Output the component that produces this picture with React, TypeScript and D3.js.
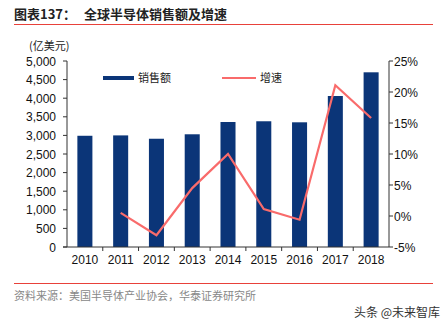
import React from "react";
import * as d3 from "d3";

const years = ["2010", "2011", "2012", "2013", "2014", "2015", "2016", "2017", "2018"];
const sales = [2990, 3000, 2910, 3030, 3360, 3380, 3352, 4059, 4696];
const growth = [null, 0.5, -3.1, 4.5, 10.0, 1.1, -0.6, 21.1, 15.8];
const leftTicks = [0, 500, 1000, 1500, 2000, 2500, 3000, 3500, 4000, 4500, 5000];
const rightTicks = [-5, 0, 5, 10, 15, 20, 25];

const BAR = "#0b3578";
const LINE = "#f96b6b";
const FONT = "'Liberation Sans', Arial, sans-serif";
const CJK = "'Noto Sans CJK SC', sans-serif";

export default function App() {
  const left = 67, right = 389, top = 61, bottom = 247;
  const x = d3.scaleBand<string>().domain(years).range([left, right]).paddingInner(0).paddingOuter(0);
  const yL = d3.scaleLinear().domain([0, 5000]).range([bottom, top]);
  const yR = d3.scaleLinear().domain([-5, 25]).range([bottom, top]);
  const bw = x.bandwidth() * 0.42;
  const fmt = d3.format(",");
  const pts = years
    .map((yr, i) => ({ yr, v: growth[i] }))
    .filter((d) => d.v !== null) as { yr: string; v: number }[];
  const line = d3
    .line<{ yr: string; v: number }>()
    .x((d) => (x(d.yr) as number) + x.bandwidth() / 2)
    .y((d) => yR(d.v));

  return (
    <svg width={445} height={324} style={{ position: "absolute", left: 0, top: 0, background: "#fff" }}>
      <text x={14} y={19} fontFamily={CJK} fontWeight="bold" fontSize={13} fill="#222">图表137：</text>
      <text x={84} y={19} fontFamily={CJK} fontWeight="bold" fontSize={13} fill="#222">全球半导体销售额及增速</text>
      <line x1={14} x2={433} y1={24.5} y2={24.5} stroke="#e8413a" strokeWidth={1.2} />

      <text x={29} y={50} fontFamily={CJK} fontSize={11} fill="#222">(亿美元)</text>

      {years.map((yr, i) => (
        <rect key={yr} x={(x(yr) as number) + (x.bandwidth() - bw) / 2} y={yL(sales[i])} width={bw} height={bottom - yL(sales[i])} fill={BAR} />
      ))}
      <path d={line(pts) || ""} fill="none" stroke={LINE} strokeWidth={2.2} strokeLinejoin="miter" />

      {/* left axis */}
      <line x1={left} x2={left} y1={top} y2={bottom} stroke="#333" strokeWidth={1} />
      {leftTicks.map((t) => (
        <g key={t}>
          <line x1={left - 4} x2={left} y1={yL(t)} y2={yL(t)} stroke="#333" />
          <text x={56} y={yL(t) + 4.5} textAnchor="end" fontFamily={FONT} fontSize={12} fill="#111">{fmt(t)}</text>
        </g>
      ))}
      {/* right axis */}
      <line x1={right} x2={right} y1={top} y2={bottom} stroke="#333" strokeWidth={1} />
      {rightTicks.map((t) => (
        <g key={t}>
          <line x1={right} x2={right + 4} y1={yR(t)} y2={yR(t)} stroke="#333" />
          <text x={394} y={yR(t) + 4.5} textAnchor="start" fontFamily={FONT} fontSize={12} fill="#111">{t}%</text>
        </g>
      ))}
      {/* x axis */}
      <line x1={left - 4} x2={right} y1={bottom} y2={bottom} stroke="#333" />
      {years.map((yr, i) => (
        <g key={yr}>
          {i > 0 && <line x1={x(yr) as number} x2={x(yr) as number} y1={bottom} y2={bottom + 4} stroke="#333" />}
          <text x={(x(yr) as number) + x.bandwidth() / 2} y={264} textAnchor="middle" fontFamily={FONT} fontSize={12} fill="#111">{yr}</text>
        </g>
      ))}

      {/* legend */}
      <rect x={103} y={76} width={31} height={4} fill={BAR} />
      <text x={138} y={82} fontFamily={CJK} fontSize={11} fill="#222">销售额</text>
      <line x1={222} x2={256} y1={78} y2={78} stroke={LINE} strokeWidth={2.2} />
      <text x={260} y={82} fontFamily={CJK} fontSize={11} fill="#222">增速</text>

      <line x1={14} x2={433} y1={283.5} y2={283.5} stroke="#e8413a" strokeWidth={1.2} />
      <text x={14} y={300} fontFamily={CJK} fontSize={11} fill="#888">资料来源：美国半导体产业协会，华泰证券研究所</text>
      <text x={354} y={317} fontFamily={CJK} fontSize={12} fill="#333">头条 @未来智库</text>
    </svg>
  );
}
